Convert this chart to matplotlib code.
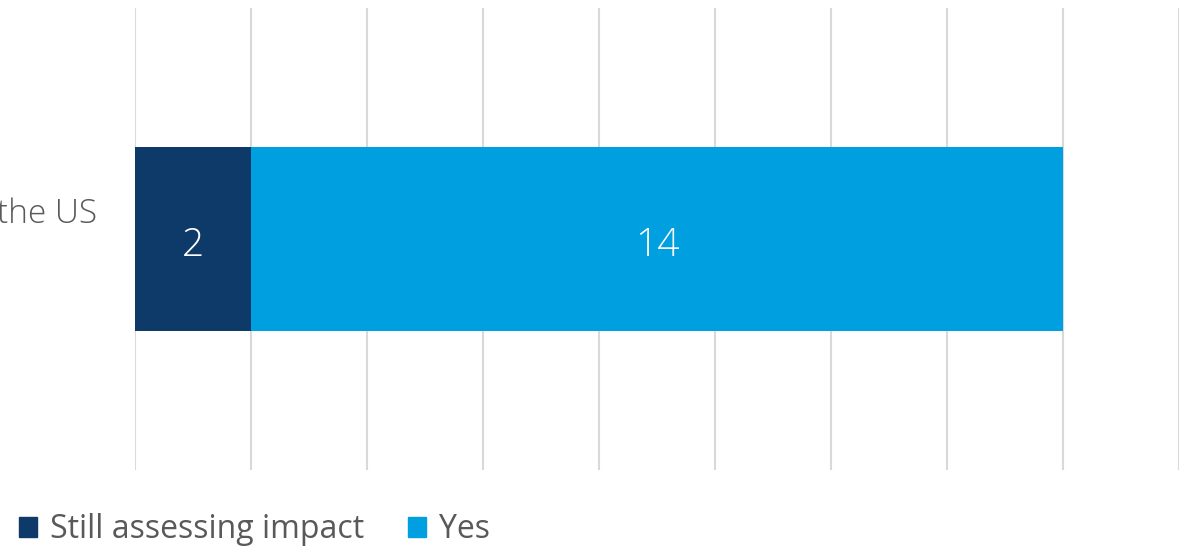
import matplotlib
matplotlib.use("Agg")
import matplotlib.pyplot as plt
from matplotlib.patches import Patch

plt.rcParams['font.family'] = ['Open Sans', 'DejaVu Sans']

category = ["the US"]
series_names = ["Still assessing impact", "Yes"]
still_assessing = [2]
yes = [14]
colors = ["#0E3A69", "#009FDF"]
x_ticks = list(range(0, 19, 2))

fig = plt.figure(figsize=(11.82, 5.48), dpi=100)
ax = fig.add_axes([0.1142, 0.1423, 0.8833, 0.8431])

b1 = ax.barh([0], still_assessing, height=0.4, color=colors[0], zorder=3)
b2 = ax.barh([0], yes, left=still_assessing, height=0.4, color=colors[1], zorder=3)

# value labels, nudged a little below the bar centre
for bars in (b1, b2):
    for t in ax.bar_label(bars, label_type='center', color='white',
                          fontsize=28, fontweight='light'):
        t.xyann = (0, -5)

ax.set_xlim(0, 18)
ax.set_ylim(-0.5, 0.5)
ax.set_xticks(x_ticks)
ax.set_xticklabels([])
ax.set_yticks([])
ax.tick_params(length=0)
ax.grid(axis='x', color='#D9D9D9', linewidth=1.5, zorder=0)
for s in ax.spines.values():
    s.set_visible(False)

# category label sits left of the axes, partly off the figure edge
ax.text(-0.0364, 0.554, category[0], transform=ax.transAxes, ha='right',
        va='center', fontsize=24, color='#595959', fontweight='light')

handles = [Patch(color=c, label=n) for c, n in zip(colors, series_names)]
fig.legend(handles=handles, loc='center left', bbox_to_anchor=(0.016, 0.033),
           ncol=2, frameon=False, fontsize=23, handlelength=0.56,
           handleheight=0.56, handletextpad=0.4, columnspacing=1.4,
           borderpad=0, borderaxespad=0, labelcolor='#595959')

fig.savefig("out.png", dpi=100)
